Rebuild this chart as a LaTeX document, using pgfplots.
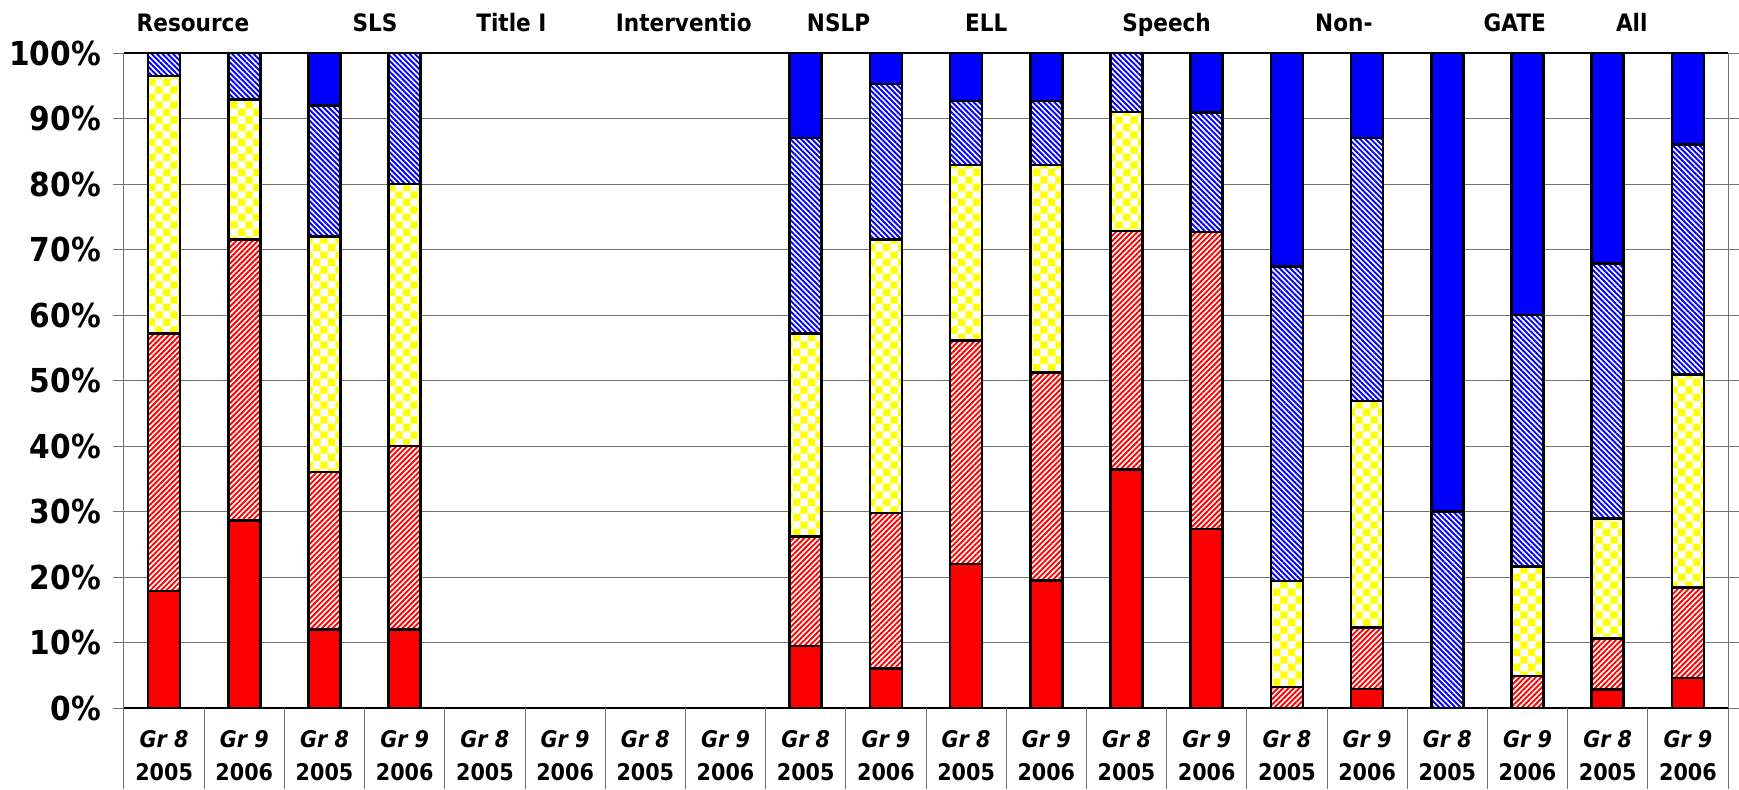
\documentclass[border=0pt]{standalone}
\usepackage{pgfplots}
\usepackage{pgfplotstable}
\pgfplotsset{compat=1.18}
\usepackage{fontspec}
\setmainfont{DejaVu Sans}[FakeStretch=0.9]
\usetikzlibrary{patterns,patterns.meta}

\pgfdeclarepatternformonly{checkbig}{\pgfpointorigin}{\pgfqpoint{7.4pt}{7.4pt}}{\pgfqpoint{7.4pt}{7.4pt}}{%
 \pgfpathrectangle{\pgfpointorigin}{\pgfqpoint{3.75pt}{3.75pt}}%
 \pgfpathrectangle{\pgfqpoint{3.7pt}{3.7pt}}{\pgfqpoint{3.75pt}{3.75pt}}%
 \pgfusepath{fill}}

\pgfplotstableread{
x s1 s2 s3 s4 s5
0 17.9 39.3 39.3 3.5 0
1 28.6 42.9 21.4 7.1 0
2 12 24 36 20 8
3 12 28 40 20 0
4 0 0 0 0 0
5 0 0 0 0 0
6 0 0 0 0 0
7 0 0 0 0 0
8 9.5 16.7 31.0 29.8 13.0
9 6.0 23.8 41.7 23.8 4.7
10 22.0 34.1 26.8 9.8 7.3
11 19.5 31.7 31.7 9.8 7.3
12 36.4 36.4 18.2 9.0 0
13 27.3 45.4 0 18.2 9.1
14 0 3.2 16.2 48.0 32.6
15 2.9 9.4 34.6 40.1 13.0
16 0 0 0 30 70
17 0 4.9 16.7 38.4 40.0
18 2.8 7.8 18.3 39.0 32.1
19 4.6 13.8 32.5 35.1 14.0
}\data

\begin{document}
\begin{tikzpicture}
\useasboundingbox (-62pt,-40.5pt) rectangle (807.5pt,354pt);
\begin{axis}[
 at={(0pt,0pt)}, anchor=south west, scale only axis,
 width=802pt, height=327.5pt,
 ybar stacked, bar width=16pt,
 xmin=-0.5, xmax=19.5, ymin=0, ymax=100,
 xtick={0,...,19},
 xticklabels={
 {\textit{Gr 8}\\2005},{\textit{Gr 9}\\2006},{\textit{Gr 8}\\2005},{\textit{Gr 9}\\2006},
 {\textit{Gr 8}\\2005},{\textit{Gr 9}\\2006},{\textit{Gr 8}\\2005},{\textit{Gr 9}\\2006},
 {\textit{Gr 8}\\2005},{\textit{Gr 9}\\2006},{\textit{Gr 8}\\2005},{\textit{Gr 9}\\2006},
 {\textit{Gr 8}\\2005},{\textit{Gr 9}\\2006},{\textit{Gr 8}\\2005},{\textit{Gr 9}\\2006},
 {\textit{Gr 8}\\2005},{\textit{Gr 9}\\2006},{\textit{Gr 8}\\2005},{\textit{Gr 9}\\2006}},
 ytick={0,10,...,100},
 yticklabels={0\%,10\%,20\%,30\%,40\%,50\%,60\%,70\%,80\%,90\%,100\%},
 ymajorgrids, grid style={black!55,line width=0.5pt},
 axis line style={black!55,line width=0.5pt},
 tick align=outside,
 major tick length=5.5pt,
 tick style={black!55,line width=0.5pt},
 major x tick style={draw=none},
 yticklabel style={font=\bfseries\fontsize{16.5}{18}\selectfont, xshift=-2.5pt},
 xticklabel style={font=\bfseries\fontsize{11.5}{16.5}\selectfont, align=center, yshift=-2pt},
 every axis plot/.append style={draw=black, line width=1.25pt},
 clip=false,
]
\addplot[fill=red] table[x=x,y=s1]{\data};
\addplot[preaction={fill=white}, pattern={Lines[angle=45,distance=1.9pt,line width=0.95pt]}, pattern color=red] table[x=x,y=s2]{\data};
\addplot[preaction={fill=white}, pattern=checkbig, pattern color=yellow] table[x=x,y=s3]{\data};
\addplot[preaction={fill=white}, pattern={Lines[angle=-45,distance=1.9pt,line width=0.95pt]}, pattern color=blue] table[x=x,y=s4]{\data};
\addplot[fill=blue] table[x=x,y=s5]{\data};

\pgfplotsinvokeforeach{-0.5,0.5,...,19.5}{
 \draw[black!55,line width=0.5pt] (axis cs:#1,0) -- ([yshift=-40.5pt]axis cs:#1,0);
}
\draw[black,line width=0.6pt] (rel axis cs:0,0) -- (rel axis cs:1,0);
\draw[black,line width=0.6pt] (rel axis cs:0,1) -- (rel axis cs:1,1);

\tikzset{gt/.style={font=\bfseries\fontsize{12}{14}\selectfont, anchor=base}}
\node[gt] at ([yshift=11pt]axis cs:0.36,100) {Resource};
\node[gt] at ([yshift=11pt]axis cs:2.63,100) {SLS};
\node[gt] at ([yshift=11pt]axis cs:4.33,100) {Title I};
\node[gt] at ([yshift=11pt]axis cs:6.48,100) {Interventio};
\node[gt] at ([yshift=11pt]axis cs:8.41,100) {NSLP};
\node[gt] at ([yshift=11pt]axis cs:10.25,100) {ELL};
\node[gt] at ([yshift=11pt]axis cs:12.50,100) {Speech};
\node[gt] at ([yshift=11pt]axis cs:14.71,100) {Non-};
\node[gt] at ([yshift=11pt]axis cs:16.84,100) {GATE};
\node[gt] at ([yshift=11pt]axis cs:18.30,100) {All};
\end{axis}
\end{tikzpicture}
\end{document}
